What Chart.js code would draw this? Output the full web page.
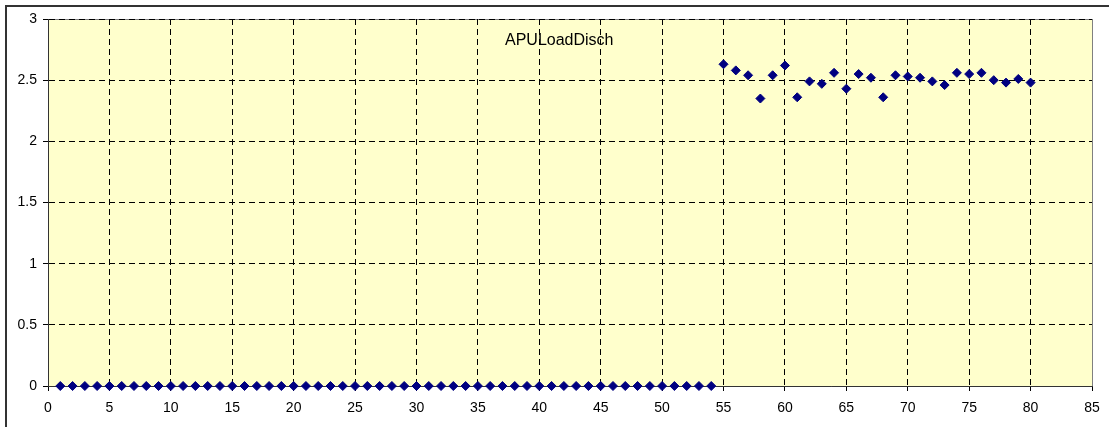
<!DOCTYPE html>
<html>
<head>
<meta charset="utf-8">
<script src="https://cdn.jsdelivr.net/npm/chart.js@4"></script>
<style>
  body { margin: 0; background: #fff; overflow: hidden; }
  #wrap { position: relative; width: 1109px; height: 427px; }
  #frame { position: absolute; left: 5px; top: 5px; width: 1200px; height: 600px; border-left: 2px solid #333; border-top: 2px solid #333; }
  #ttl { position: absolute; left: 505px; top: 31px; font: 16px "Liberation Sans", Arial, sans-serif; color: #000; white-space: nowrap; }
  canvas { position: absolute; left: 0; top: 0; }
</style>
</head>
<body>
<div id="wrap">
  <div id="frame"></div>
  <canvas id="myChart" width="1109" height="427"></canvas>
  <div id="ttl">APULoadDisch</div>
</div>
<script>
// sample index
const sampleX = [1, 2, 3, 4, 5, 6, 7, 8, 9, 10, 11, 12, 13, 14, 15, 16, 17, 18, 19, 20,
  21, 22, 23, 24, 25, 26, 27, 28, 29, 30, 31, 32, 33, 34, 35, 36, 37, 38, 39, 40,
  41, 42, 43, 44, 45, 46, 47, 48, 49, 50, 51, 52, 53, 54, 55, 56, 57, 58, 59, 60,
  61, 62, 63, 64, 65, 66, 67, 68, 69, 70, 71, 72, 73, 74, 75, 76, 77, 78, 79, 80];
// APULoadDisch values
const loadDisch = [0, 0, 0, 0, 0, 0, 0, 0, 0, 0, 0, 0, 0, 0, 0, 0, 0, 0, 0, 0,
  0, 0, 0, 0, 0, 0, 0, 0, 0, 0, 0, 0, 0, 0, 0, 0, 0, 0, 0, 0,
  0, 0, 0, 0, 0, 0, 0, 0, 0, 0, 0, 0, 0, 0,
  2.63, 2.58, 2.54, 2.35, 2.54, 2.62, 2.36, 2.49, 2.47, 2.56,
  2.43, 2.55, 2.52, 2.36, 2.54, 2.53, 2.52, 2.49, 2.46, 2.56,
  2.55, 2.56, 2.50, 2.48, 2.51, 2.48];
const xTicks = [0, 5, 10, 15, 20, 25, 30, 35, 40, 45, 50, 55, 60, 65, 70, 75, 80, 85];
const yTicks = [0, 0.5, 1, 1.5, 2, 2.5, 3];

let puntos = [];
sampleX.forEach((x, i) => {
  puntos.push({ x: x, y: loadDisch[i] });
});

// fondo amarillo del area de trazado
const plotBg = {
  id: 'plotBg',
  beforeDraw(chart) {
    const { ctx, chartArea: a } = chart;
    ctx.save();
    ctx.fillStyle = '#FFFFCC';
    ctx.fillRect(a.left, a.top, a.right - a.left, a.bottom - a.top);
    ctx.strokeStyle = '#808080';
    ctx.lineWidth = 1;
    ctx.strokeRect(a.left + 0.5, a.top + 0.5, a.right - a.left, a.bottom - a.top);
    ctx.restore();
  }
};

const font = { family: '"Liberation Sans", Arial, sans-serif', size: 14 };

const ctx = document.getElementById('myChart');
new Chart(ctx, {
  type: 'scatter',
  data: {
    datasets: [{
      label: 'APULoadDisch',
      data: puntos,
      pointStyle: 'rectRot',
      pointRadius: 4.5,
      pointHoverRadius: 4.5,
      backgroundColor: '#000080',
      borderColor: '#000080',
      borderWidth: 1,
      clip: false
    }]
  },
  options: {
    responsive: false,
    animation: false,
    layout: { padding: { top: 19, right: 17, left: 0, bottom: 0 } },
    plugins: { legend: { display: false }, tooltip: { enabled: false } },
    scales: {
      x: {
        type: 'linear',
        min: 0, max: 85,
        afterBuildTicks: s => { s.ticks = xTicks.map(v => ({ value: v })); },
        afterFit: s => { s.height = 41; },
        ticks: { font: font, color: '#000', padding: 9, maxRotation: 0, autoSkip: false, callback: v => String(v) },
        grid: {
          color: c => (c.tick && (c.tick.value === 0 || c.tick.value === 85)) ? 'rgba(0,0,0,0)' : '#000',
          tickColor: '#000',
          tickLength: 5,
          lineWidth: 1
        },
        border: { display: true, color: '#333', width: 1, dash: [6, 4] }
      },
      y: {
        min: 0, max: 3,
        afterBuildTicks: s => { s.ticks = yTicks.map(v => ({ value: v })); },
        afterFit: s => { s.width = 48; },
        ticks: { font: font, color: '#000', padding: 6, callback: v => String(v) },
        grid: {
          color: c => (c.tick && c.tick.value === 0) ? 'rgba(0,0,0,0)' : '#000',
          tickColor: '#000',
          tickLength: 5,
          lineWidth: 1
        },
        border: { display: true, color: '#333', width: 1, dash: [6, 4] }
      }
    }
  },
  plugins: [plotBg]
});
</script>
</body>
</html>
